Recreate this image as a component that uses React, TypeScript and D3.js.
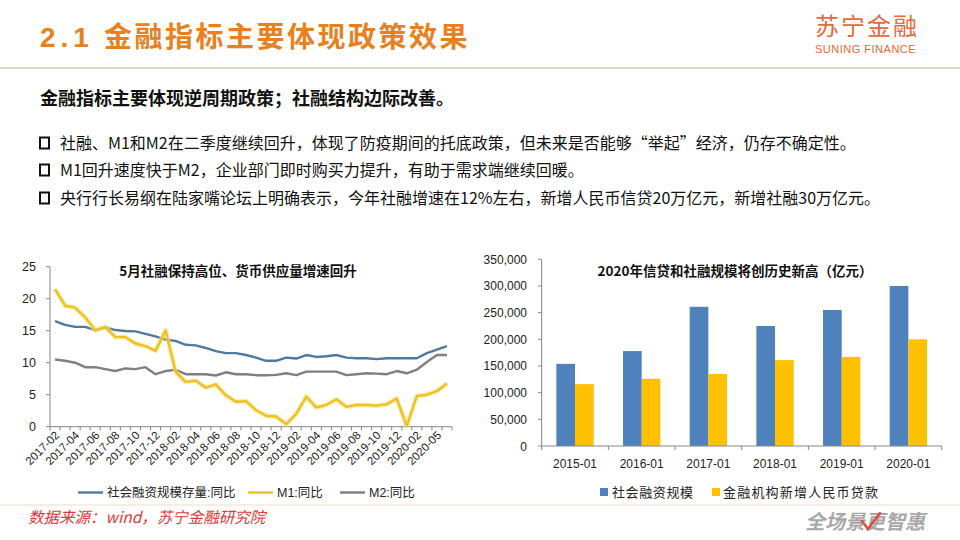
import React from 'react';
import * as d3 from 'd3';

// ---------- Left chart data ----------
const months = [
  '2017-02','2017-03','2017-04','2017-05','2017-06','2017-07','2017-08','2017-09','2017-10','2017-11','2017-12',
  '2018-01','2018-02','2018-03','2018-04','2018-05','2018-06','2018-07','2018-08','2018-09','2018-10','2018-11','2018-12',
  '2019-01','2019-02','2019-03','2019-04','2019-05','2019-06','2019-07','2019-08','2019-09','2019-10','2019-11','2019-12',
  '2020-01','2020-02','2020-03','2020-04','2020-05',
];
const sfGrowth = [
  16.5, 15.9, 15.6, 15.6, 15.1, 15.5, 15.1, 14.95, 14.9, 14.5, 14.1,
  13.6, 13.4, 12.8, 12.7, 12.3, 11.8, 11.5, 11.5, 11.2, 10.8, 10.3, 10.3,
  10.8, 10.65, 11.2, 10.9, 11.0, 11.2, 10.8, 10.7, 10.7, 10.55, 10.7, 10.7,
  10.7, 10.7, 11.5, 12.05, 12.6,
];
const m1Growth = [
  21.5, 18.9, 18.6, 17.1, 15.05, 15.6, 14.0, 14.0, 13.0, 12.6, 11.85,
  15.05, 8.6, 7.0, 7.2, 6.1, 6.6, 4.9, 3.9, 4.0, 2.6, 1.7, 1.6,
  0.4, 2.0, 4.7, 3.0, 3.4, 4.3, 3.1, 3.4, 3.4, 3.3, 3.5, 4.4,
  0.1, 4.8, 5.0, 5.55, 6.75,
];
const m2Growth = [
  10.5, 10.3, 10.0, 9.3, 9.3, 9.0, 8.7, 9.1, 9.0, 9.3, 8.2,
  8.7, 8.9, 8.2, 8.2, 8.2, 8.0, 8.5, 8.2, 8.2, 8.05, 8.05, 8.1,
  8.35, 8.05, 8.6, 8.6, 8.6, 8.6, 8.05, 8.2, 8.35, 8.3, 8.2, 8.7,
  8.35, 8.9, 10.1, 11.2, 11.2,
];
const leftTickLabels = [
  '2017-02','2017-04','2017-06','2017-08','2017-10','2017-12',
  '2018-02','2018-04','2018-06','2018-08','2018-10','2018-12',
  '2019-02','2019-04','2019-06','2019-08','2019-10','2019-12',
  '2020-02','2020-05',
];
const leftYTicks = [0, 5, 10, 15, 20, 25];
const leftSeriesNames = ['社会融资规模存量:同比', 'M1:同比', 'M2:同比'];

// ---------- Right chart data ----------
const barCategories = ['2015-01','2016-01','2017-01','2018-01','2019-01','2020-01'];
const afreValues = [154000, 178000, 261000, 225000, 255000, 300000];
const loanValues = [116000, 126000, 135000, 161000, 167000, 200000];
const rightYTicks = [0, 50000, 100000, 150000, 200000, 250000, 300000, 350000];
const rightSeriesNames = ['社会融资规模', '金融机构新增人民币贷款'];

const bullets = [
  '社融、M1和M2在二季度继续回升，体现了防疫期间的托底政策，但未来是否能够“举起”经济，仍存不确定性。',
  'M1回升速度快于M2，企业部门即时购买力提升，有助于需求端继续回暖。',
  '央行行长易纲在陆家嘴论坛上明确表示，今年社融增速在12%左右，新增人民币信贷20万亿元，新增社融30万亿元。',
];

const FONT = '"Liberation Sans", "Noto Sans CJK SC", sans-serif';
const CJK = '"Noto Sans CJK SC", sans-serif';

const C_BLUE_LINE = '#4F79A2';
const C_YELLOW_LINE = '#EEC21C';
const C_GRAY_LINE = '#7F7F7F';
const C_BAR_BLUE = '#4F81BD';
const C_BAR_YELLOW = '#FFC000';
const AXIS = '#868686';

export default function App() {
  // Left chart scales
  const xL = d3.scaleBand<string>().domain(months).range([50, 452]);
  const bwL = xL.bandwidth();
  const cx = (i: number) => (xL(months[i]) as number) + bwL / 2;
  const yL = d3.scaleLinear().domain([0, 25]).range([426.7, 266.7]);
  const lineGen = d3.line<number>().x((_, i) => cx(i)).y((d) => yL(d));

  // Right chart scales
  const xR = d3.scaleBand<string>().domain(barCategories).range([541.7, 941.7]);
  const bwR = xR.bandwidth();
  const barW = bwR * 0.28;
  const yR = d3.scaleLinear().domain([0, 350000]).range([446, 259.3]);
  const fmt = d3.format(',');

  const boundariesL = d3.range(months.length + 1).map((i) => 50 + i * bwL);
  const boundariesR = d3.range(barCategories.length + 1).map((i) => 541.7 + i * bwR);

  return (
    <svg
      width={960}
      height={540}
      viewBox="0 0 960 540"
      style={{ position: 'absolute', left: 0, top: 0, background: '#fff' }}
    >
      <rect x={0} y={0} width={960} height={540} fill="#fff" />

      {/* Header */}
      <text x={40} y={47} fontFamily={FONT} fontWeight={700} fontSize={28} fill="#E8801E" letterSpacing={5}>
        2.1
      </text>
      <text x={104} y={47} fontFamily={CJK} fontWeight={700} fontSize={28} fill="#E8801E" letterSpacing={2.5}>
        金融指标主要体现政策效果
      </text>
      <text x={815} y={35} fontFamily={CJK} fontWeight={400} fontSize={24} fill="#E5693A" letterSpacing={2}>
        苏宁金融
      </text>
      <text x={815} y={53} fontFamily={FONT} fontSize={11} fill="#E5693A" letterSpacing={0.5}>
        SUNING FINANCE
      </text>
      <line x1={0} x2={960} y1={68} y2={68} stroke="#DCCBAE" strokeWidth={1.5} />

      <text x={40} y={105} fontFamily={CJK} fontWeight={700} fontSize={18} fill="#111">
        金融指标主要体现逆周期政策；社融结构边际改善。
      </text>
      {bullets.map((b, i) => {
        const cy = [143, 170, 198][i];
        return (
          <g key={i}>
            <rect x={40} y={cy - 5.5} width={9} height={11} fill="none" stroke="#111" strokeWidth={2} />
            <text x={60} y={cy + 6} fontFamily={CJK} fontSize={16} fill="#111">
              {b}
            </text>
          </g>
        );
      })}

      {/* ---------- Left chart ---------- */}
      <text x={238} y={276} textAnchor="middle" fontFamily={CJK} fontWeight={700} fontSize={13.5} fill="#111">
        5月社融保持高位、货币供应量增速回升
      </text>
      <line x1={50} x2={50} y1={266.7} y2={426.7} stroke={AXIS} />
      <line x1={50} x2={452} y1={426.7} y2={426.7} stroke={AXIS} />
      {leftYTicks.map((t) => (
        <g key={t}>
          <line x1={46} x2={50} y1={yL(t)} y2={yL(t)} stroke={AXIS} />
          <text x={36} y={yL(t) + 4.5} textAnchor="end" fontFamily={FONT} fontSize={12.5} fill="#222">
            {t}
          </text>
        </g>
      ))}
      {boundariesL.map((bx, i) => (
        <line key={i} x1={bx} x2={bx} y1={426.7} y2={430.5} stroke={AXIS} />
      ))}
      {leftTickLabels.map((lab, k) => {
        const i = k * 2;
        return (
          <text
            key={lab}
            transform={`translate(${cx(i) + 5},${436}) rotate(-45)`}
            textAnchor="end"
            fontFamily={FONT}
            fontSize={11.5}
            fill="#222"
          >
            {lab}
          </text>
        );
      })}
      <path d={lineGen(sfGrowth) as string} fill="none" stroke={C_BLUE_LINE} strokeWidth={2.4} strokeLinejoin="round" />
      <path d={lineGen(m2Growth) as string} fill="none" stroke={C_GRAY_LINE} strokeWidth={2.4} strokeLinejoin="round" />
      <path d={lineGen(m1Growth) as string} fill="none" stroke="#F8E08A" strokeOpacity={0.6} strokeWidth={5} strokeLinejoin="round" />
      <path d={lineGen(m1Growth) as string} fill="none" stroke={C_YELLOW_LINE} strokeWidth={2.4} strokeLinejoin="round" />

      {/* Left legend */}
      {[
        { x: 78, color: C_BLUE_LINE },
        { x: 248, color: C_YELLOW_LINE },
        { x: 340, color: C_GRAY_LINE },
      ].map((it, i) => (
        <g key={i}>
          <line x1={it.x} x2={it.x + 25} y1={492.5} y2={492.5} stroke={it.color} strokeWidth={2.4} />
          <text x={it.x + 29} y={497} fontFamily={FONT} fontSize={12.5} fill="#222">
            {leftSeriesNames[i]}
          </text>
        </g>
      ))}

      {/* ---------- Right chart ---------- */}
      <text x={735} y={276} textAnchor="middle" fontFamily={CJK} fontWeight={700} fontSize={13.5} fill="#111">
        2020年信贷和社融规模将创历史新高（亿元）
      </text>
      {rightYTicks.map((t) => (
        <g key={t}>
          <line x1={538} x2={541.7} y1={yR(t)} y2={yR(t)} stroke={AXIS} />
          <text x={527} y={yR(t) + 4.5} textAnchor="end" fontFamily={FONT} fontSize={12} fill="#222">
            {fmt(t)}
          </text>
        </g>
      ))}
      {barCategories.map((c, i) => {
        const x0 = (xR(c) as number) + bwR / 2;
        return (
          <g key={c}>
            <rect x={x0 - barW} y={yR(afreValues[i])} width={barW} height={446 - yR(afreValues[i])} fill={C_BAR_BLUE} />
            <rect x={x0} y={yR(loanValues[i])} width={barW} height={446 - yR(loanValues[i])} fill={C_BAR_YELLOW} />
            <text x={x0} y={468} textAnchor="middle" fontFamily={FONT} fontSize={12} fill="#222">
              {c}
            </text>
          </g>
        );
      })}
      <line x1={541.7} x2={541.7} y1={259.3} y2={446} stroke={AXIS} />
      <line x1={541.7} x2={941.7} y1={446} y2={446} stroke={AXIS} />
      {boundariesR.map((bx, i) => (
        <line key={i} x1={bx} x2={bx} y1={446} y2={450} stroke={AXIS} />
      ))}
      {/* Right legend */}
      <rect x={600} y={488} width={8} height={8} fill={C_BAR_BLUE} />
      <text x={612} y={497} fontFamily={CJK} fontSize={13} fill="#222" letterSpacing={0.6}>
        {rightSeriesNames[0]}
      </text>
      <rect x={712} y={488} width={8} height={8} fill={C_BAR_YELLOW} />
      <text x={723} y={497} fontFamily={CJK} fontSize={13} fill="#222" letterSpacing={1.2}>
        {rightSeriesNames[1]}
      </text>

      {/* Footer */}
      <line x1={0} x2={960} y1={505} y2={505} stroke="#F2DCC8" strokeWidth={1.2} />
      <text x={28} y={523} fontFamily={CJK} fontStyle="italic" fontSize={15.5} fill="#DC3A3A">
        数据来源：wind，苏宁金融研究院
      </text>
      <text x={805} y={529} fontFamily={CJK} fontWeight={700} fontStyle="italic" fontSize={20} fill="#A7A7A7">
        全场景更智惠
      </text>
      <path d="M862,521 L868,529 L880,513" fill="none" stroke="#E24A3B" strokeWidth={2.5} strokeLinecap="round" />
    </svg>
  );
}
